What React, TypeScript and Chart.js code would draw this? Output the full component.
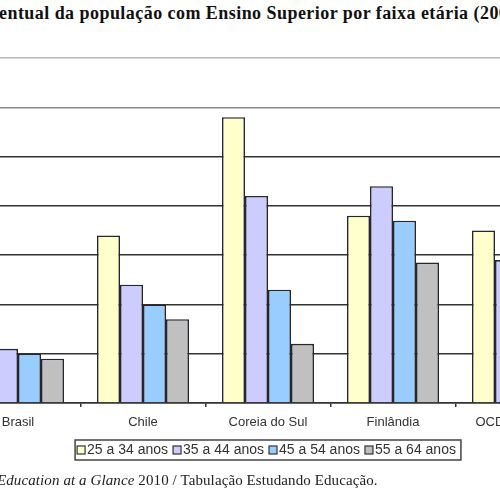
import React, { useEffect, useRef } from "react";
import { Chart, registerables } from "chart.js";

Chart.register(...registerables);

const categories = ["Brasil", "Chile", "Coreia do Sul", "Finlândia", "OCDE (média)"];
const seriesLabels = ["25 a 34 anos", "35 a 44 anos", "45 a 54 anos", "55 a 64 anos"];
const age25to34 = [12, 34, 58, 38, 35];
const age35to44 = [11, 24, 42, 44, 29];
const age45to54 = [10, 20, 23, 37, 24];
const age55to64 = [9, 17, 12, 28.5, 19];
const seriesColors = ["#FFFFCC", "#CCCCFF", "#99CCFF", "#C0C0C0"];
const yTicks = [0, 10, 20, 30, 40, 50, 60, 70];

const legendPlugin = {
  id: "boxedLegend",
  afterDraw(chart: any) {
    const ctx = chart.ctx;
    const ca = chart.chartArea;
    const font = "14px 'Liberation Sans', Arial, sans-serif";
    ctx.save();
    ctx.font = font;
    const box = 8;
    const gapBoxText = 2;
    const gapItems = 5;
    const padL = 2;
    const padR = 5;
    const items = chart.data.datasets.map((d: any) => ({
      text: d.label,
      color: d.backgroundColor,
      w: ctx.measureText(d.label).width,
    }));
    let total = padL + padR;
    items.forEach((it: any, i: number) => {
      total += box + gapBoxText + it.w + (i < items.length - 1 ? gapItems : 0);
    });
    const cx = (ca.left + ca.right) / 2;
    const left = cx - total / 2;
    const top = ca.bottom + 37;
    const h = 20;
    ctx.strokeStyle = "#444";
    ctx.lineWidth = 1.5;
    ctx.strokeRect(left, top, total, h);
    let x = left + padL;
    const cy = top + h / 2;
    ctx.textBaseline = "middle";
    ctx.textAlign = "left";
    items.forEach((it: any) => {
      ctx.fillStyle = it.color;
      ctx.fillRect(x, cy - box / 2, box, box);
      ctx.lineWidth = 1.2;
      ctx.strokeStyle = "#333";
      ctx.strokeRect(x, cy - box / 2, box, box);
      x += box + gapBoxText;
      ctx.fillStyle = "#333";
      ctx.fillText(it.text, x, cy + 0.5);
      x += it.w + gapItems;
    });
    ctx.restore();
  },
};

export default function App() {
  const ref = useRef<HTMLCanvasElement>(null);
  useEffect(() => {
    if (!ref.current) return;
    const data = [age25to34, age35to44, age45to54, age55to64];
    const chart = new Chart(ref.current, {
      type: "bar",
      data: {
        labels: categories,
        datasets: data.map((vals, i) => ({
          label: seriesLabels[i],
          data: vals,
          backgroundColor: seriesColors[i],
          borderColor: "#26262e",
          borderWidth: 1.6,
          borderSkipped: "bottom",
          categoryPercentage: 0.736,
          barPercentage: 1.0,
        })),
      },
      options: {
        responsive: false,
        animation: false,
        layout: { padding: { top: 58, right: 9.5, left: 0, bottom: 0 } },
        plugins: {
          legend: { display: false },
          title: { display: false },
          tooltip: { enabled: false },
        },
        scales: {
          x: {
            offset: true,
            grid: {
              drawOnChartArea: false,
              drawTicks: true,
              tickLength: 4,
              color: "#333",
              lineWidth: 1.5,
              offset: true,
            },
            border: { display: true, color: "#333", width: 1.5 },
            ticks: {
              padding: 8,
              color: "#333",
              autoSkip: false,
              maxRotation: 0,
              font: { family: "'Liberation Sans', Arial, sans-serif", size: 13 },
            },
            afterFit: (scale: any) => {
              scale.height = 97;
            },
          },
          y: {
            min: 0,
            max: 70,
            afterBuildTicks: (scale: any) => {
              scale.ticks = yTicks.map((v) => ({ value: v }));
            },
            grid: {
              drawTicks: false,
              lineWidth: 1.5,
              color: (c: any) =>
                c.tick && c.tick.value === 70
                  ? "#b8b8b8"
                  : c.tick && c.tick.value === 60
                  ? "#8a8a8a"
                  : "#333",
            },
            border: { display: false },
            ticks: {
              color: "#333",
              callback: (v: any) => v + "%",
              font: { family: "'Liberation Sans', Arial, sans-serif", size: 13 },
            },
            afterFit: (scale: any) => {
              scale.width = 65.5;
            },
          },
        },
      },
      plugins: [legendPlugin],
    });
    return () => chart.destroy();
  }, []);

  return (
    <div
      style={{
        position: "fixed",
        left: 0,
        top: 0,
        width: 500,
        height: 500,
        overflow: "hidden",
        background: "#fff",
      }}
    >
      <div
        style={{
          position: "absolute",
          left: -1,
          top: 4,
          whiteSpace: "nowrap",
          font: "bold 18px 'Liberation Serif', 'Times New Roman', serif",
          letterSpacing: "0.45px",
          lineHeight: "18px",
          color: "#111",
        }}
      >
        <span style={{ position: "absolute", right: "100%" }}>Perc</span>
        entual da população com Ensino Superior por faixa etária (2008)
      </div>
      <canvas
        ref={ref}
        width={700}
        height={500}
        style={{ position: "absolute", left: -110, top: 0, width: 700, height: 500 }}
      />
      <div
        style={{
          position: "absolute",
          left: -3,
          top: 473,
          whiteSpace: "nowrap",
          font: "15px 'Liberation Serif', 'Times New Roman', serif",
          letterSpacing: "0.1px",
          lineHeight: "15px",
          color: "#222",
        }}
      >
        <span style={{ position: "absolute", right: "100%" }}>Fonte: OCDE,&nbsp;</span>
        <i>Education at a Glance</i> 2010 / Tabulação Estudando Educação.
      </div>
    </div>
  );
}
